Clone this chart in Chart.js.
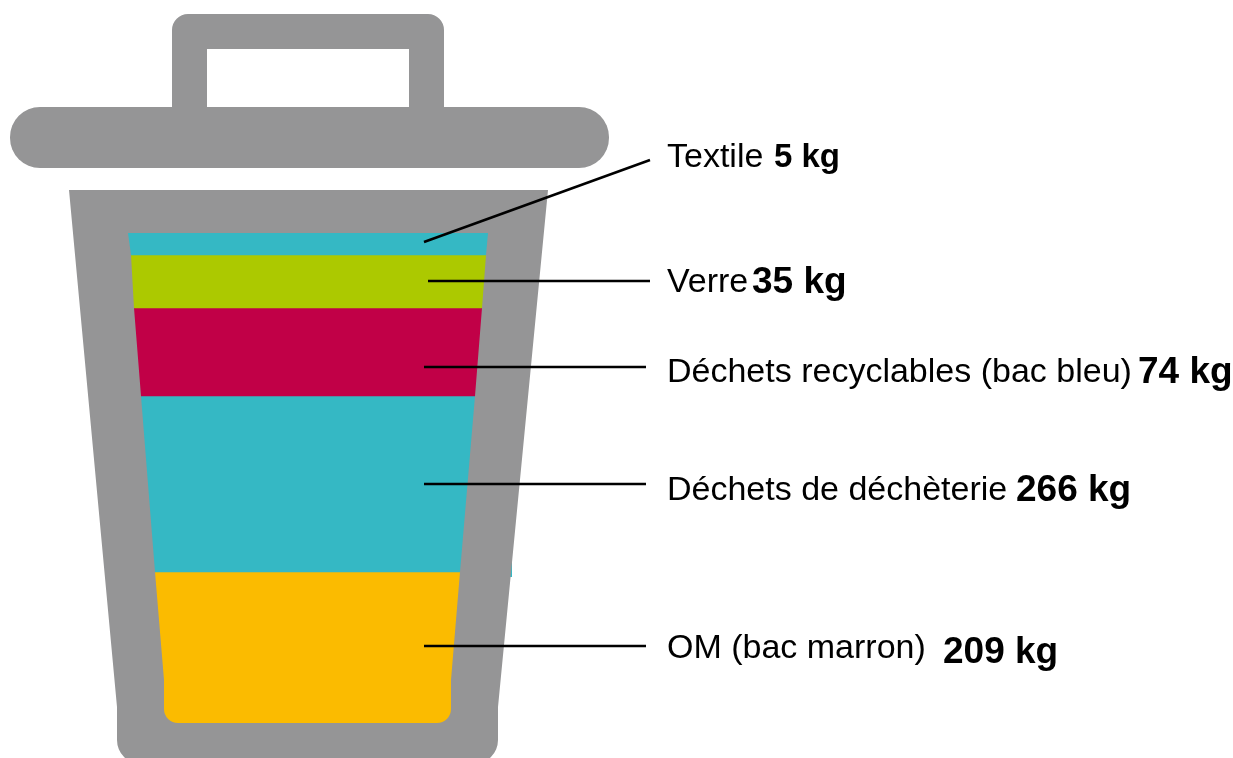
<!DOCTYPE html>
<html>
<head>
<meta charset="utf-8">
<title>Poubelle</title>
<script src="https://cdn.jsdelivr.net/npm/chart.js@4"></script>
<style>
  html, body { margin: 0; padding: 0; background: #fff; }
  canvas { display: block; }
</style>
</head>
<body>
<canvas id="wasteChart" width="1233" height="758"></canvas>
<script>
// Top to bottom, same order as in the bin
const categories = ['Textile', 'Verre', 'Déchets recyclables (bac bleu)', 'Déchets de déchèterie', 'OM (bac marron)'];
const weightsKg = [5, 35, 74, 266, 209];
// The layers are not to scale in the original, these are the drawn thicknesses
const layerHeights = [22, 53, 88, 176, 151];
const layerColors = ['#35b8c4', '#acc900', '#c10047', '#35b8c4', '#fbbb00'];

const binFloor = 723;
const binCenter = 308;
const grey = '#959596';

const leaderStart = [[424, 242], [428, 281], [424, 367], [424, 484], [424, 646]];
const leaderEnd = [[650, 160], [650, 281], [646, 367], [646, 484], [646, 646]];

// label x, value x, label baseline, value baseline, font size of the label and of the value
const labelPos = [
    [667, 774, 167, 167, 34, 33],
    [667, 752, 292, 293, 34, 37],
    [667, 1138, 382, 383, 34, 37],
    [667, 1016, 500, 501, 34, 37],
    [667, 943, 658, 663, 34, 37],
];

const innerLeft = [[128, 233], [131, 255], [134, 308], [141, 396], [155, 572], [164, 680]];
const innerRight = [[488, 233], [486, 255], [482, 308], [475, 396], [460, 572], [451, 680]];

// Floating bars built from the bottom of the bin upwards
function layerRange(i) {
    let below = 0;
    for (let j = i + 1; j < layerHeights.length; j++) below += layerHeights[j];
    return [binFloor - below - layerHeights[i], binFloor - below];
}

function innerPath(ctx, x, y) {
    ctx.beginPath();
    innerLeft.forEach(p => ctx.lineTo(x(p[0]), y(p[1])));
    ctx.arcTo(x(164), y(binFloor), x(178), y(binFloor), 14);
    ctx.arcTo(x(451), y(binFloor), x(451), y(709), 14);
    innerRight.slice().reverse().forEach(p => ctx.lineTo(x(p[0]), y(p[1])));
    ctx.closePath();
}

const binPlugin = {
    id: 'bin',
    beforeDatasetsDraw(chart) {
        const ctx = chart.ctx;
        const x = v => chart.scales.x.getPixelForValue(v);
        const y = v => chart.scales.y.getPixelForValue(v);
        ctx.save();

        // little teal sliver sticking out of the right side
        ctx.fillStyle = layerColors[3];
        ctx.fillRect(x(509), y(562), 3, 15);

        ctx.fillStyle = grey;

        // handle
        ctx.beginPath();
        ctx.moveTo(x(172), y(110));
        ctx.lineTo(x(172), y(30));
        ctx.arcTo(x(172), y(14), x(188), y(14), 16);
        ctx.arcTo(x(444), y(14), x(444), y(30), 16);
        ctx.lineTo(x(444), y(110));
        ctx.lineTo(x(409), y(110));
        ctx.lineTo(x(409), y(49));
        ctx.lineTo(x(207), y(49));
        ctx.lineTo(x(207), y(110));
        ctx.closePath();
        ctx.fill();

        // lid
        ctx.beginPath();
        ctx.roundRect(x(10), y(107), x(609) - x(10), y(168) - y(107), 30);
        ctx.fill();

        // body, the bottom edge runs just off the page
        ctx.beginPath();
        ctx.moveTo(x(69), y(190));
        ctx.lineTo(x(548), y(190));
        ctx.lineTo(x(498), y(707));
        ctx.lineTo(x(498), y(740));
        ctx.arcTo(x(498), y(764), x(474), y(764), 24);
        ctx.lineTo(x(141), y(764));
        ctx.arcTo(x(117), y(764), x(117), y(740), 24);
        ctx.lineTo(x(117), y(707));
        ctx.closePath();
        ctx.fill();

        ctx.restore();
    },
    // layers only show through the inside shape of the bin
    beforeDatasetDraw(chart, args) {
        if (args.meta.type !== 'bar') return;
        const ctx = chart.ctx;
        ctx.save();
        innerPath(ctx, v => chart.scales.x.getPixelForValue(v), v => chart.scales.y.getPixelForValue(v));
        ctx.clip();
    },
    afterDatasetDraw(chart, args) {
        if (args.meta.type === 'bar') chart.ctx.restore();
    },
    afterDraw(chart) {
        const ctx = chart.ctx;
        const x = v => chart.scales.x.getPixelForValue(v);
        const y = v => chart.scales.y.getPixelForValue(v);
        ctx.save();
        ctx.fillStyle = '#000';
        ctx.textBaseline = 'alphabetic';
        categories.forEach((name, i) => {
            const [labelX, valueX, labelY, valueY, labelSize, valueSize] = labelPos[i];
            ctx.font = labelSize + 'px "Liberation Sans"';
            ctx.fillText(name, x(labelX), y(labelY));
            ctx.font = 'bold ' + valueSize + 'px "Liberation Sans"';
            ctx.fillText(weightsKg[i] + ' kg', x(valueX), y(valueY));
        });
        ctx.restore();
    }
};

const barDatasets = categories.map((name, i) => ({
    type: 'bar',
    label: name,
    data: [{ x: binCenter, y: layerRange(i) }],
    backgroundColor: layerColors[i],
    borderWidth: 0,
    barThickness: 372,
    grouped: false,
    order: 2
}));

const leaderDatasets = categories.map((name, i) => ({
    type: 'line',
    label: name + ' (trait)',
    data: [
        { x: leaderStart[i][0], y: leaderStart[i][1] },
        { x: leaderEnd[i][0], y: leaderEnd[i][1] }
    ],
    borderColor: '#000',
    borderWidth: 2.5,
    pointRadius: 0,
    fill: false,
    order: 1
}));

new Chart(document.getElementById('wasteChart'), {
    data: { datasets: barDatasets.concat(leaderDatasets) },
    options: {
        responsive: false,
        animation: false,
        layout: { padding: 0 },
        plugins: { legend: { display: false }, tooltip: { enabled: false } },
        scales: {
            x: { type: 'linear', min: 0, max: 1233, offset: false, display: false },
            y: { type: 'linear', min: 0, max: 758, reverse: true, display: false }
        }
    },
    plugins: [binPlugin]
});
</script>
</body>
</html>
